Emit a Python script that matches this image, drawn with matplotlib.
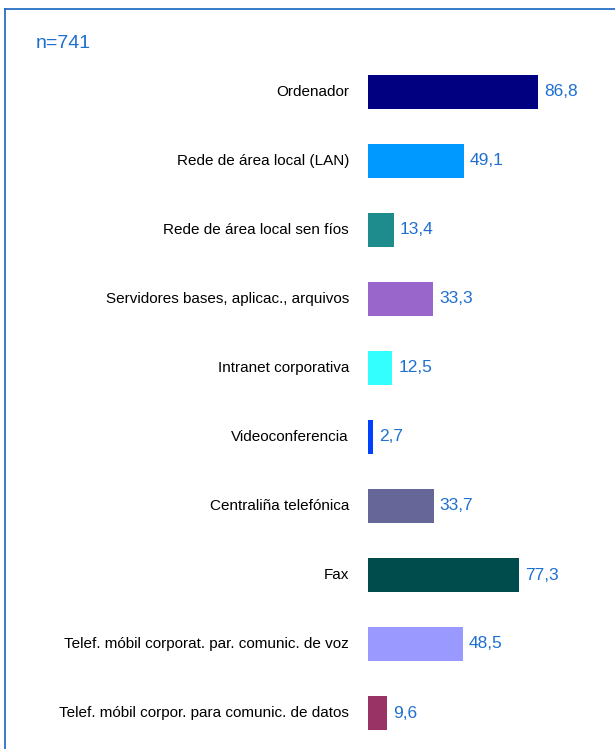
import matplotlib
matplotlib.use('Agg')
import matplotlib.pyplot as plt
from matplotlib.lines import Line2D

plt.rcParams['font.family'] = ['Liberation Sans', 'DejaVu Sans']

categories = [
    "Ordenador",
    "Rede de área local (LAN)",
    "Rede de área local sen fíos",
    "Servidores bases, aplicac., arquivos",
    "Intranet corporativa",
    "Videoconferencia",
    "Centraliña telefónica",
    "Fax",
    "Telef. móbil corporat. par. comunic. de voz",
    "Telef. móbil corpor. para comunic. de datos",
]
values = [86.8, 49.1, 13.4, 33.3, 12.5, 2.7, 33.7, 77.3, 48.5, 9.6]
colors = ['#000080', '#0099FF', '#1E8C8C', '#9966CC', '#33FFFF',
          '#0040FF', '#666699', '#004C4C', '#9999FF', '#993366']

W, H = 615, 749
fig = plt.figure(figsize=(W / 100, H / 100), dpi=100)
fig.patch.set_facecolor('white')

# axes placed in pixels: bars start at x=368, rows 69px apart
ax = fig.add_axes([368 / W, 1.5 / H, (W - 368) / W, 690 / H])
ypos = list(range(len(categories)))
ax.barh(ypos, values, height=0.5, color=colors)
ax.set_xlim(0, (W - 368) / 1.958)
ax.set_ylim(len(categories) - 0.5, -0.5)
ax.axis('off')

for y, v, lab in zip(ypos, values, categories):
    ax.text(v + 3, y, f"{v:.1f}".replace('.', ','), va='center', ha='left',
            fontsize=12.5, color='#1F6FD0')
    ax.annotate(lab, xy=(0, y), xytext=(-19, 0), textcoords='offset pixels',
                ha='right', va='center', fontsize=11, color='black',
                annotation_clip=False)

fig.text(36 / W, 1 - 43 / H, "n=741", fontsize=14, color='#1F6FD0',
         ha='left', va='center')

# frame: left and top lines only
fig.add_artist(Line2D([5 / W, 5 / W], [0, 1 - 9 / H], color='#1565C0', linewidth=1.2))
fig.add_artist(Line2D([5 / W, 1], [1 - 9 / H, 1 - 9 / H], color='#1565C0', linewidth=1.2))

fig.savefig('out.png', dpi=100, facecolor='white')
